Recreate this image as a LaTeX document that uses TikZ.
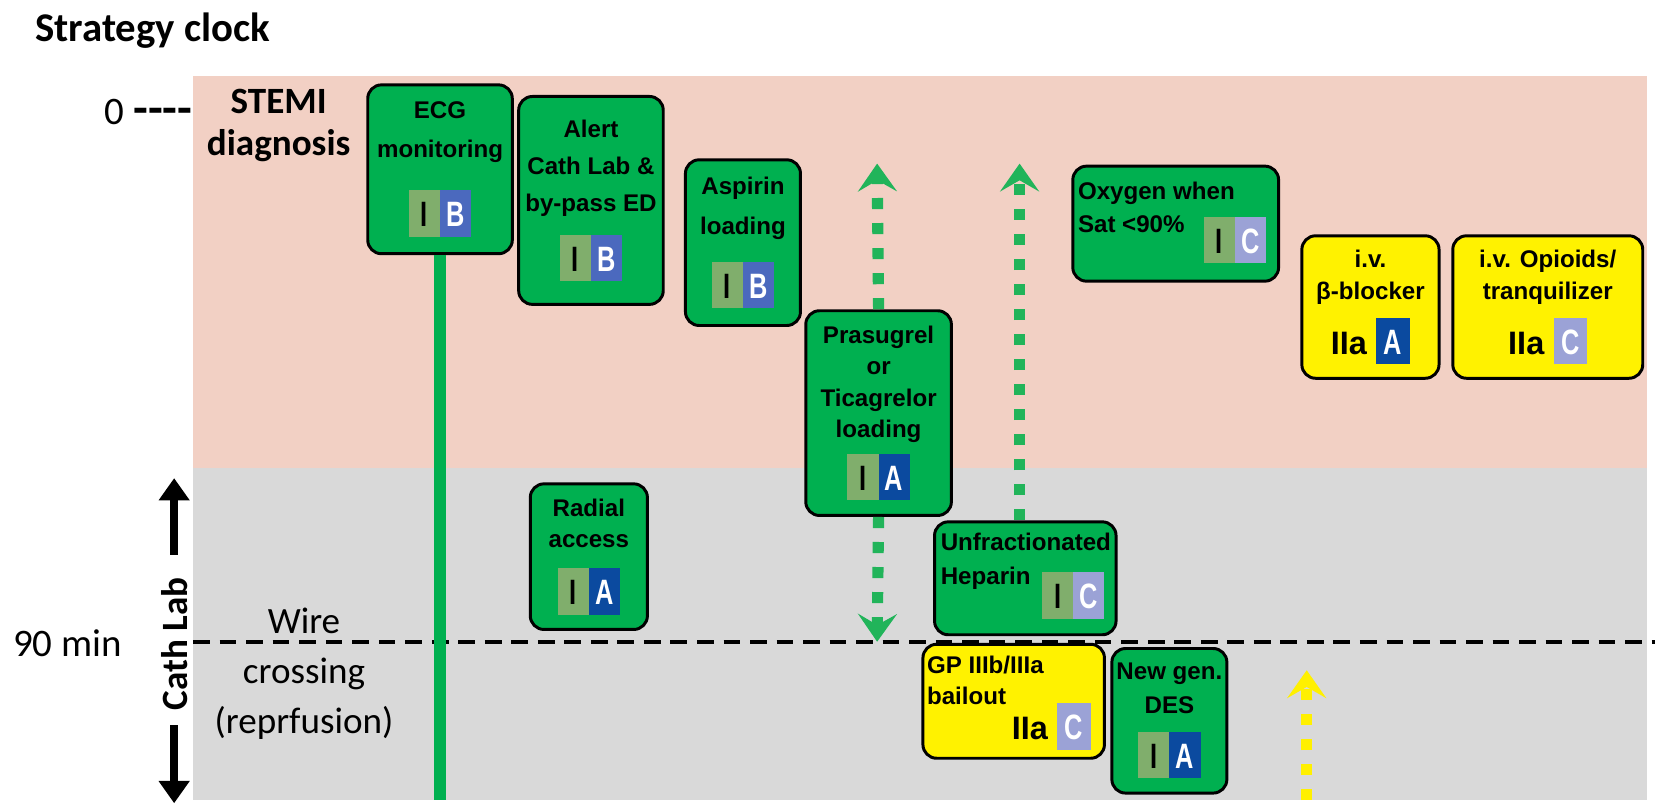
\documentclass[tikz,border=0pt]{standalone}
\usepackage{fontspec}
\usepackage{tikz}
\usetikzlibrary{arrows.meta}

\newfontfamily\labfont{Carlito}
\newfontfamily\boxfont{Liberation Sans}
\newfontfamily\gradefont{Liberation Sans}[FakeStretch=0.72]

\definecolor{pinkbg}{HTML}{F2D0C4}
\definecolor{graybg}{HTML}{D9D9D9}
\definecolor{boxgreen}{HTML}{00B050}
\definecolor{boxyellow}{HTML}{FFF200}
\definecolor{dotgreen}{HTML}{21B45A}
\definecolor{arrowyellow}{HTML}{FFF000}
\definecolor{clsI}{HTML}{80AE6C}
\definecolor{lvlA}{HTML}{0B4A9F}
\definecolor{lvlB}{HTML}{4B69BE}
\definecolor{lvlC}{HTML}{9BA2D6}

\newcommand{\gcell}[4][5.9mm]{\colorbox{#2}{\makebox[#1]{\rule[-1.9mm]{0pt}{8.8mm}\textcolor{#3}{#4}}}}
\newcommand{\grade}[2]{{\setlength{\fboxsep}{0pt}\gradefont\bfseries\fontsize{19}{19}\selectfont\gcell{clsI}{black}{I}\gcell{#1}{white}{#2}}}
\newcommand{\gradeIIa}[2]{{\setlength{\fboxsep}{0pt}\boxfont\bfseries\fontsize{17.5}{19}\selectfont IIa\hspace{5pt}\gradefont\fontsize{19}{19}\selectfont\gcell[6.4mm]{#1}{white}{#2}}}

\begin{document}
\begin{tikzpicture}[x=0.02cm,y=-0.02cm,
        gbox/.style={draw=black,line width=1.6pt,rounded corners=2.6mm,inner sep=0pt,
            align=center,fill=boxgreen,anchor=north west,
            font=\boxfont\bfseries\fontsize{13}{#1}\selectfont},
        ybox/.style={gbox=#1,fill=boxyellow},
        boxtext/.style={inner sep=0pt,align=left,anchor=north west,
            font=\boxfont\bfseries\fontsize{13}{#1}\selectfont},
        sidetext/.style={inner sep=0pt,align=center,font=\labfont\fontsize{21}{27}\selectfont},
        dotarrow/.style={draw=dotgreen,line width=6pt,dash pattern=on 6pt off 7.5pt,
            -{Stealth[length=15pt,width=21pt,inset=6pt]}},
        catharrow/.style={line width=4.5pt,-{Triangle[length=12pt,width=16pt]}},
        wireline/.style={line width=2pt,dash pattern=on 9pt off 5.3pt},
        ecgline/.style={draw=boxgreen,line width=6.2pt}]

    \useasboundingbox (0,0) rectangle (1568,761);

    % time zones
    \fill[pinkbg] (183,72) rectangle (1560,443);
    \fill[graybg] (183,443) rectangle (1560,758);

    \coordinate (wl) at (183,608);
    \coordinate (wr) at (1568,608);
    \draw[wireline] (wl) -- (wr);

    % side labels
    \node[sidetext,font=\labfont\bfseries\fontsize{22}{22}\selectfont,anchor=west] (title) at (33,29) {Strategy clock};
    \node[sidetext,anchor=west] (zero) at (99,106) {0 {\bfseries\fontsize{26}{26}\selectfont -{}-{}-{}-}};
    \node[sidetext,anchor=west] (ninety) at (12,609) {90 min};
    \node[sidetext,font=\labfont\bfseries\fontsize{20}{23}\selectfont] (stemi) at (264,119) {STEMI\\diagnosis};
    \node[sidetext,font=\labfont\fontsize{20}{27}\selectfont] (wire) at (288,638) {Wire\\crossing\\(reprfusion)};
    \node[sidetext,font=\labfont\bfseries\fontsize{20}{20}\selectfont,rotate=90] (cath) at (165,610) {Cath Lab};

    \coordinate (cathtop) at (165,453);
    \coordinate (cathbot) at (165,761);
    \path (cath.east) edge[catharrow,shorten <=12pt] (cathtop)
          (cath.west) edge[catharrow,shorten <=8pt] (cathbot);

    % recommendations
    \node[gbox=21,minimum width=27.4mm,minimum height=32mm] (ecg) at (347,79)
        {ECG\\monitoring\\[14pt]\grade{lvlB}{B}};
    \node[gbox=20,minimum width=27.4mm,minimum height=39.4mm] (alert) at (490,90)
        {Alert\\Cath Lab \&\\by-pass ED\\[9pt]\grade{lvlB}{B}};
    \node[gbox=21.5,minimum width=21.8mm,minimum height=31.4mm] (asp) at (648,150)
        {Aspirin\\loading\\[11pt]\grade{lvlB}{B}};
    \node[gbox=17,minimum width=27.6mm,minimum height=38.8mm] (pras) at (762,293)
        {Prasugrel\\or\\Ticagrelor\\loading\\[5pt]\grade{lvlA}{A}};
    \node[gbox=17,minimum width=22.2mm,minimum height=27.6mm] (radial) at (501,457)
        {Radial\\access\\[10pt]\grade{lvlA}{A}};
    \node[gbox=18,minimum width=21.8mm,minimum height=27.4mm] (des) at (1052,613)
        {New gen.\\DES\\[9pt]\grade{lvlA}{A}};
    \node[ybox=17.5,minimum width=26mm,minimum height=27mm] (beta) at (1232,222)
        {i.v.\\β-blocker\\[6pt]\gradeIIa{lvlA}{A}};
    \node[ybox=17.5,minimum width=36mm,minimum height=27mm] (opio) at (1375,222)
        {i.v. Opioids/\\tranquilizer\\[6pt]\gradeIIa{lvlC}{C}};

    \node[gbox=17,minimum width=39mm,minimum height=21.8mm] (oxy) at (1015,156) {};
    \node[boxtext=17.6] (oxytxt) at (1021,172) {Oxygen when\\Sat <90\%};
    \node[inner sep=0pt,anchor=north west] (oxygr) at (1140,205) {\grade{lvlC}{C}};

    \node[gbox=17,minimum width=34.4mm,minimum height=21.4mm] (hep) at (884,493) {};
    \node[boxtext=18] (heptxt) at (891,505) {Unfractionated\\Heparin};
    \node[inner sep=0pt,anchor=north west] (hepgr) at (987,542) {\grade{lvlC}{C}};

    \node[ybox=17,minimum width=34.4mm,minimum height=21.6mm] (gp) at (873,609) {};
    \node[boxtext=17] (gptxt) at (878,621) {GP IIIb/IIIa\\bailout};
    \node[inner sep=0pt,anchor=north east] (gpgr) at (1034,666) {\gradeIIa{lvlC}{C}};

    % time lines
    \coordinate (panelbot) at (0,758);
    \draw[ecgline] (ecg.south) -- (ecg.south |- panelbot);

    \coordinate (prastop) at (831,155);
    \coordinate (prasbot) at (831,608);
    \coordinate (heptop) at (966,155);
    \coordinate (gpbot) at (1238,758);
    \coordinate (gptop) at (1238,635);
    \path (pras.north) edge[dotarrow] (prastop)
          (pras.south) edge[dotarrow] (prasbot)
          (hep.north -| heptop) edge[dotarrow] (heptop)
          (gpbot) edge[dotarrow,draw=arrowyellow] (gptop);
\end{tikzpicture}
\end{document}
